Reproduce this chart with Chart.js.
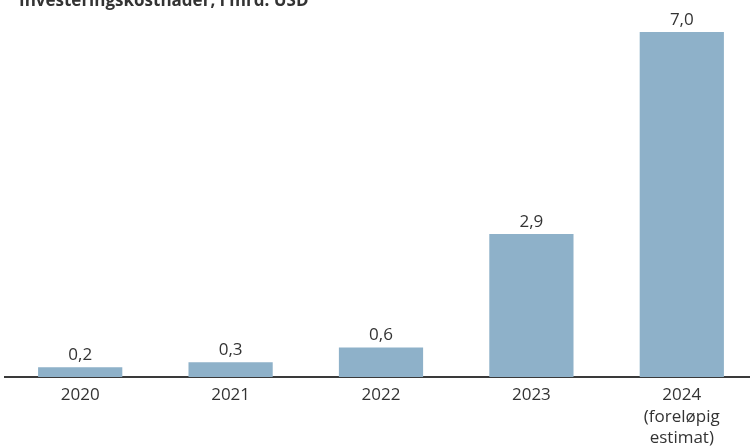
<!DOCTYPE html>
<html>
<head>
<meta charset="utf-8">
<script src="https://cdn.jsdelivr.net/npm/chart.js@4"></script>
<style>
  html,body{margin:0;padding:0;background:#fff;overflow:hidden;}
  #wrap{width:750px;height:447px;overflow:hidden;position:relative;}
  #box{position:absolute;left:0;top:0;width:757px;height:447px;}
</style>
</head>
<body>
<div id="wrap"><div id="box"><canvas id="chart"></canvas></div></div>
<script>
/* ---------- данные ---------- */
const title = 'Investeringskostnader, i mrd. USD';
const years = [['2020'], ['2021'], ['2022'], ['2023'], ['2024', '(foreløpig', 'estimat)']];
const costs = [0.2, 0.3, 0.6, 2.9, 7.0];
const labelText = v => v.toFixed(1).replace('.', ',');

const FONT = "'Open Sans', sans-serif";
const INK = '#333333';

/* ---------- подписи над столбцами + заголовок ---------- */
const valueLabels = {
  id: 'valueLabels',
  afterDatasetsDraw(chart){
    const ctx = chart.ctx;
    const meta = chart.getDatasetMeta(0);
    ctx.save();
    ctx.fillStyle = INK;
    ctx.font = '17px ' + FONT;
    ctx.textAlign = 'center';
    ctx.textBaseline = 'alphabetic';
    meta.data.forEach((bar, i) => {
      ctx.fillText(labelText(costs[i]), bar.x, bar.y - 7);
    });
    ctx.font = 'bold 17px ' + FONT;
    ctx.textAlign = 'left';
    ctx.fillText(title, 19, 6);
    ctx.restore();
  }
};

/* ---------- график ---------- */
new Chart($('chart'), {
  type: 'bar',
  data: {
    labels: years,
    datasets: [{
      data: costs,
      backgroundColor: '#8eb1c9',
      categoryPercentage: 1,
      barPercentage: 0.56
    }]
  },
  options: {
    responsive: true,
    maintainAspectRatio: false,
    animation: false,
    layout: {padding: {top: 32, left: 5, right: 0, bottom: 0}},
    plugins: {legend: {display: false}, tooltip: {enabled: false}},
    scales: {
      x: {
        grid: {display: false, drawTicks: false},
        border: {display: true, color: '#3a3a3a', width: 2},
        ticks: {color: INK, font: {family: FONT, size: 17, lineHeight: 1.25}, padding: 8, maxRotation: 0},
        afterFit: s => { s.height = 70; }
      },
      y: {display: false, min: 0, max: 7}
    }
  },
  plugins: [valueLabels]
});

function $(id){ return document.getElementById(id); }
</script>
</body>
</html>
